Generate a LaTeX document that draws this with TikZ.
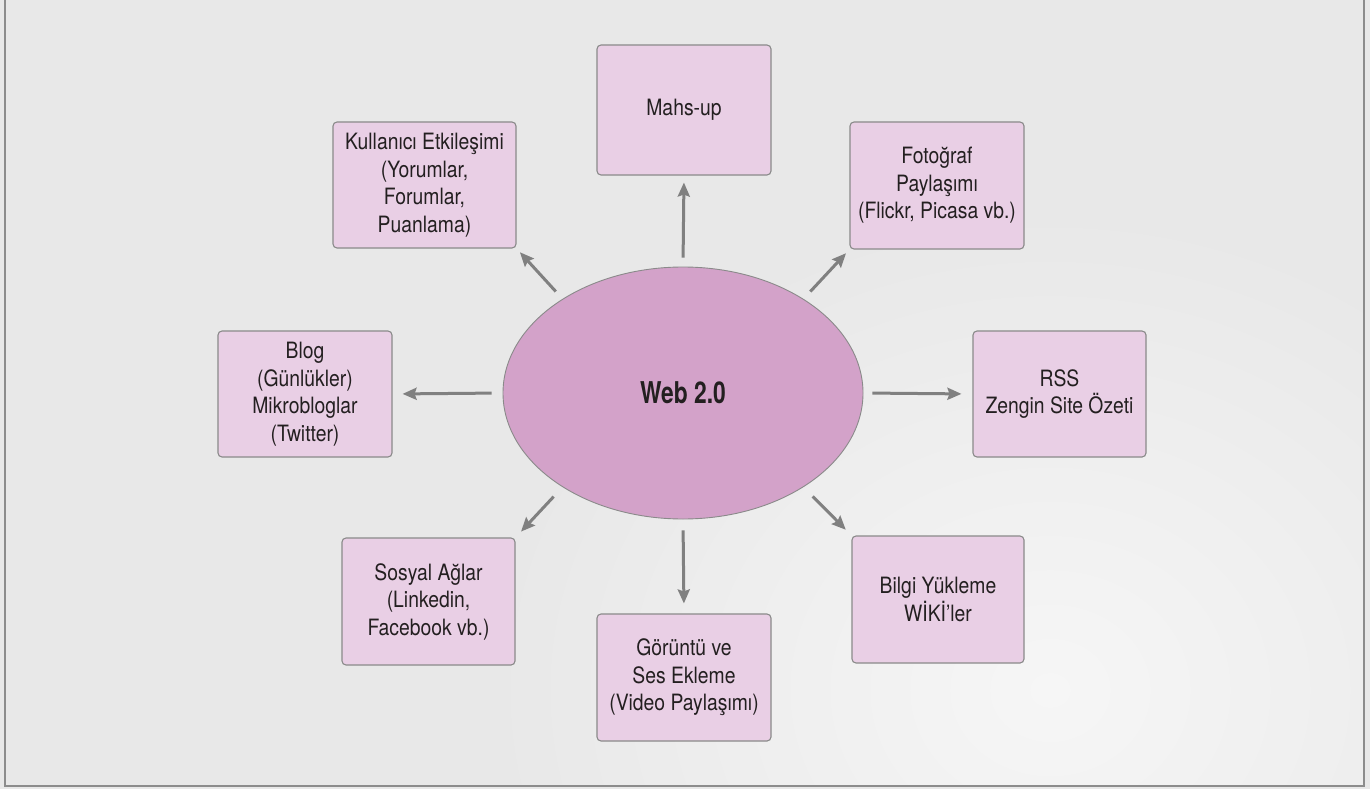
\documentclass[tikz,border=0pt]{standalone}
\usepackage{fontspec}
\setmainfont{TeX Gyre Heros}[FakeStretch=0.86]
\newfontfamily\headfont{TeX Gyre Heros}[FakeStretch=0.76]
\usetikzlibrary{arrows.meta,shapes.geometric}

\definecolor{pagebg}{RGB}{232,232,232}
\definecolor{pagelight}{RGB}{246,246,246}
\definecolor{framegrey}{RGB}{140,140,140}
\definecolor{boxpink}{RGB}{233,207,229}
\definecolor{hubpink}{RGB}{211,162,201}
\definecolor{edgegrey}{RGB}{138,138,138}
\definecolor{arrowgrey}{RGB}{128,128,128}
\definecolor{ink}{RGB}{35,31,32}

\tikzset{
  topic/.style={rectangle, rounded corners=4pt, fill=boxpink, draw=edgegrey,
    line width=1.1pt, minimum width=174pt, minimum height=127pt,
    align=center, text=ink, inner sep=0pt,
    font=\fontsize{22.5pt}{27.5pt}\selectfont},
  hub/.style={ellipse, fill=hubpink, draw=edgegrey, line width=0.9pt,
    minimum width=360pt, minimum height=252pt, inner sep=0pt, text=ink,
    font=\headfont\bfseries\fontsize{30pt}{30pt}\selectfont},
  link/.style={draw=arrowgrey, line width=3pt,
    -{Stealth[length=14pt,width=12pt,inset=2pt]}}
}

\begin{document}
\begin{tikzpicture}[x=1pt,y=-1pt]
  \useasboundingbox (0,0) rectangle (1370,789);
  % background with a soft light patch towards the lower right
  \fill[pagebg] (0,0) rectangle (1370,789);
  \begin{scope}
    \clip (5,0) rectangle (1363,785);
    \shade[inner color=pagelight, outer color=pagebg] (1050,690) ellipse (560pt and 480pt);
  \end{scope}
  % frame
  \draw[framegrey, line width=2pt] (4.5,-10) -- (4.5,785.5) -- (1363.5,785.5) -- (1363.5,-10);

  % centre
  \node[hub] (web) at (683,393) {Web 2.0};

  % topics
  \node[topic, minimum height=130pt] (mash) at (684,110) {Mahs-up};
  \node[topic, minimum width=183pt, minimum height=126pt] (user) at (424.5,185)
    {Kullanıcı Etkileşimi\\(Yorumlar,\\Forumlar,\\Puanlama)};
  \node[topic] (photo) at (937,185.5) {Fotoğraf\\Paylaşımı\\(Flickr, Picasa vb.)};
  \node[topic, minimum height=126pt] (blog) at (305,394)
    {Blog\\(Günlükler)\\Mikrobloglar\\(Twitter)};
  \node[topic, minimum width=173pt, minimum height=126pt] (rss) at (1059.5,394)
    {RSS\\Zengin Site Özeti};
  \node[topic, minimum width=173pt] (social) at (428.5,601.5)
    {Sosyal Ağlar\\(Linkedin,\\Facebook vb.)};
  \node[topic] (media) at (684,677.5) {Görüntü ve\\Ses Ekleme\\(Video Paylaşımı)};
  \node[topic, minimum width=172pt] (wiki) at (938,599.5) {Bilgi Yükleme\\WİKİ’ler};

  % connectors
  \draw[link, shorten <=9pt, shorten >=7pt] (web.north) -- (mash.south);
  \draw[link, shorten <=11pt, shorten >=10pt] (web.south) -- (media.north);
  \draw[link, shorten <=11pt, shorten >=10pt] (web.west) -- (blog.east);
  \draw[link, shorten <=9pt, shorten >=11pt] (web.east) -- (rss.west);
  \draw[link, shorten <=10pt, shorten >=5pt] (web.142) -- (user.south east);
  \draw[link, shorten <=10pt, shorten >=5pt] (web.38) -- (photo.south west);
  \draw[link, shorten <=13pt, shorten >=8pt] (web.218) -- (social.north east);
  \draw[link, shorten <=13pt, shorten >=8pt] (web.322) -- (wiki.north west);
\end{tikzpicture}
\end{document}
